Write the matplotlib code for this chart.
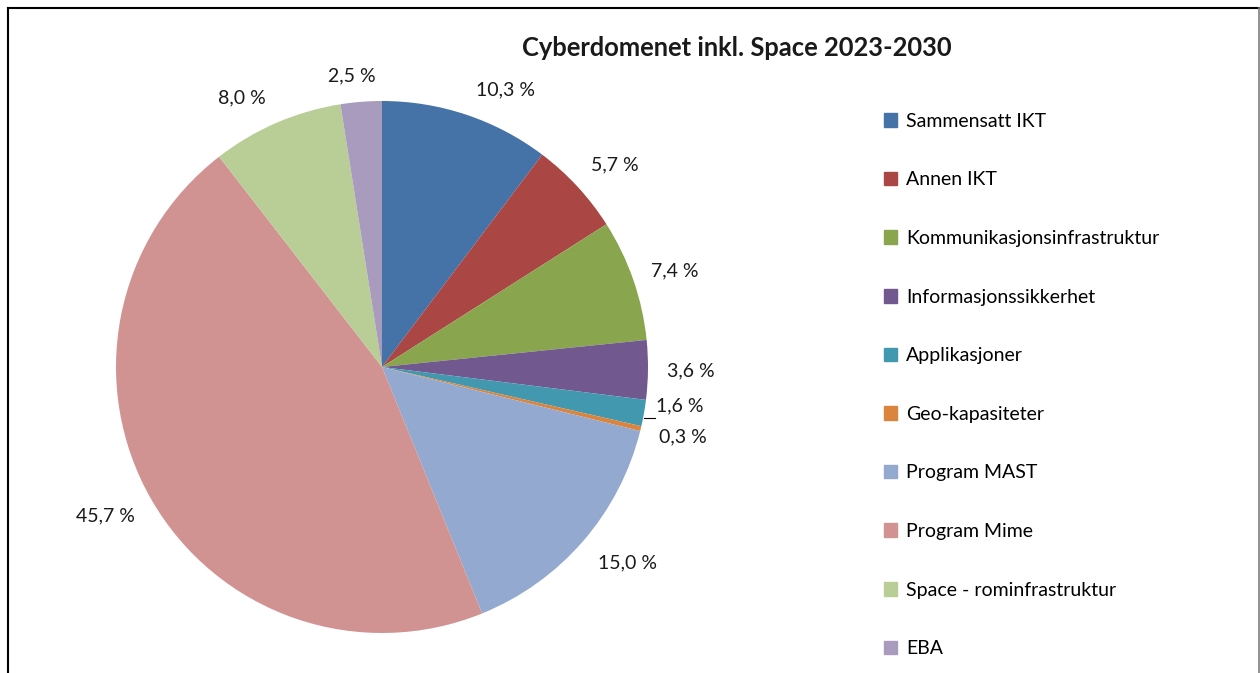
import numpy as np
import matplotlib.pyplot as plt
from matplotlib.lines import Line2D

plt.rcParams['font.family'] = ['Lato', 'DejaVu Sans']

# --- data ---
kategorier = ['Sammensatt IKT', 'Annen IKT', 'Kommunikasjonsinfrastruktur',
              'Informasjonssikkerhet', 'Applikasjoner', 'Geo-kapasiteter',
              'Program MAST', 'Program Mime', 'Space - rominfrastruktur', 'EBA']
andeler = [10.3, 5.7, 7.4, 3.6, 1.6, 0.3, 15.0, 45.7, 8.0, 2.5]
farger = ['#4572A7', '#AA4643', '#89A54E', '#71588F', '#4198AF',
          '#DB843D', '#93A9CF', '#D19392', '#B9CD96', '#A99BBD']
tittel = 'Cyberdomenet inkl. Space 2023-2030'

W, H = 1260, 673
fig = plt.figure(figsize=(W / 100, H / 100), dpi=100)

# pie axes: center (382, 367) px, radius 266 px
cx, cy, r = 382, H - 367, 266
L = 1.45
half = L * r
ax = fig.add_axes([(cx - half) / W, (cy - half) / H, 2 * half / W, 2 * half / H])
wedges, _ = ax.pie(andeler, colors=farger, startangle=90, counterclock=False,
                   radius=1.0, wedgeprops=dict(linewidth=0))
ax.set_xlim(-L, L)
ax.set_ylim(-L, L)
ax.set_aspect('equal')
ax.axis('off')

# data labels (distance from centre, angle tweak like Excel's "best fit")
avstand = [1.14, 1.16, 1.16, 1.16, 1.13, 1.16, 1.18, 1.18, 1.14, 1.10]
vri = [-5.5, -1.7, -1.0, 0.0, 2.5, 0.3, 2.4, -1.6, 4.2, 1.4]
for w, v, d, dv in zip(wedges, andeler, avstand, vri):
    mid = np.deg2rad((w.theta1 + w.theta2) / 2 + dv)
    x, y = d * np.cos(mid), d * np.sin(mid)
    ax.text(x, y, f'{v:.1f} %'.replace('.', ','), ha='center', va='center',
            fontsize=14, color='#1a1a1a')

# leader line for the small "Applikasjoner" slice
w = wedges[4]
mid = np.deg2rad((w.theta1 + w.theta2) / 2)
ax.plot([1.0 * np.cos(mid), 1.0 * np.cos(mid) + 0.04],
        [1.0 * np.sin(mid) - 0.02, 1.0 * np.sin(mid) - 0.02], color='black', lw=0.8)

fig.text(737 / W, 1 - 48 / H, tittel, ha='center', va='center',
         fontsize=18.4, fontweight='bold', color='#1a1a1a')

# legend
handles = [plt.Rectangle((0, 0), 1, 1, color=c) for c in farger]
fig.legend(handles, kategorier, loc='upper left',
           bbox_to_anchor=(876 / W, 1 - 105 / H), frameon=False,
           fontsize=14, labelspacing=2.14, handlelength=0.7, handleheight=0.7,
           handletextpad=0.45, borderaxespad=0)

# chart border
fig.add_artist(Line2D([7.5 / W, 7.5 / W], [0, 1 - 8 / H], color='black', lw=1.5))
fig.add_artist(Line2D([7.5 / W, 1259 / W], [1 - 8 / H, 1 - 8 / H], color='black', lw=1.5))
fig.add_artist(Line2D([1259 / W, 1259 / W], [0, 1 - 8 / H], color='#808080', lw=1.2))

fig.savefig('out.png', dpi=100)
